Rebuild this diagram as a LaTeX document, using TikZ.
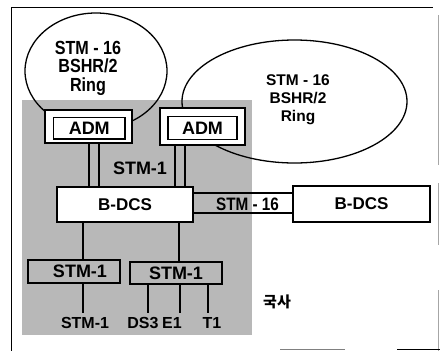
\documentclass[tikz,border=0pt]{standalone}
\usepackage{fontspec}
\setmainfont{Liberation Sans}
\newfontfamily\cond[FakeStretch=0.85]{Liberation Sans}
\newfontfamily\cjk{Noto Sans CJK KR}
\usetikzlibrary{shapes.geometric}
\definecolor{shadegray}{gray}{0.72}
\tikzset{
  ringshape/.style={draw, ellipse, line width=1.3pt, inner sep=0pt},
  admout/.style={draw, fill=white, line width=1.6pt, inner sep=0pt},
  admin/.style={draw, fill=white, line width=1.6pt, inner sep=0pt, font=\bfseries\fontsize{18}{18}\selectfont},
  dcsbox/.style={draw, fill=white, line width=2.5pt, inner sep=0pt, font=\bfseries\fontsize{17}{17}\selectfont},
  stmbox/.style={draw, fill=shadegray, line width=2.8pt, inner sep=0pt, font=\bfseries\fontsize{18}{18}\selectfont},
  conn/.style={line width=2.4pt},
  lbl/.style={inner sep=0pt, font=\bfseries\fontsize{16}{16}\selectfont},
  ringtxt/.style={inner sep=0pt, align=center}
}
\begin{document}
\begin{tikzpicture}[x=1pt,y=-1pt]
\useasboundingbox (0,0) rectangle (440,351);
% outer frame
\draw[line width=1pt] (11,351) -- (11,7) -- (433,7);
\draw[black!35, line width=0.6pt] (438,15) -- (438,165);
\draw[black!35, line width=0.6pt] (438,183) -- (438,245);
\draw[black!35, line width=0.6pt] (438,290) -- (438,351);
\draw[black!50, line width=0.8pt] (280,349) -- (345,349);
\draw[line width=1pt] (397,349) -- (440,349);
% shaded office area
\fill[shadegray] (22,100) rectangle (252,335);
% rings
\node[ringshape, minimum width=142pt, minimum height=116pt] (ring1) at (96,71) {};
\node[ringshape, minimum width=225pt, minimum height=123pt] (ring2) at (294.5,101.5) {};
\node[ringtxt, font=\cond\bfseries\fontsize{19}{18.5}\selectfont] (ring1t) at (88,68) {STM - 16\\BSHR/2\\Ring};
\node[ringtxt, font=\bfseries\fontsize{15.5}{18}\selectfont] (ring2t) at (298,100) {STM - 16\\BSHR/2\\Ring};
% ADMs
\node[admout, minimum width=87pt, minimum height=33pt] (adm1) at (88.5,126.5) {};
\node[admin, minimum width=71.5pt, minimum height=21.5pt] (adm1t) at (89.25,128.25) {ADM};
\node[admout, minimum width=85pt, minimum height=37pt] (adm2) at (202.5,126.5) {};
\node[admin, minimum width=69pt, minimum height=23pt] (adm2t) at (202.5,128) {ADM};
% B-DCS
\node[dcsbox, minimum width=136pt, minimum height=35pt] (bdcs1) at (125,204.5) {B-DCS};
\node[dcsbox, minimum width=137pt, minimum height=36pt] (bdcs2) at (361.5,204) {B-DCS};
% ADM to B-DCS
\draw[conn] ([xshift=0.5pt]adm1.south) -- ([xshift=0.5pt]adm1.south |- bdcs1.north);
\draw[conn] ([xshift=10.5pt]adm1.south) -- ([xshift=10.5pt]adm1.south |- bdcs1.north);
\draw[conn] ([xshift=-27.5pt]adm2.south) -- ([xshift=-27.5pt]adm2.south |- bdcs1.north);
\draw[conn] ([xshift=-17.5pt]adm2.south) -- ([xshift=-17.5pt]adm2.south |- bdcs1.north);
\node[lbl, font=\bfseries\fontsize{18}{18}\selectfont] (stmmid) at (140,168) {STM-1};
% B-DCS to B-DCS
\draw[line width=2.2pt] ([yshift=11.5pt]bdcs1.east) -- ([yshift=11.5pt]bdcs1.east -| bdcs2.west);
\draw[line width=2.2pt] ([yshift=-8.5pt]bdcs1.east) -- ([yshift=-8.5pt]bdcs1.east -| bdcs2.west);
\node[lbl, font=\cond\bfseries\fontsize{18}{18}\selectfont] (stm16) at (247.5,204) {STM - 16};
% STM-1 boxes
\node[stmbox, minimum width=92pt, minimum height=23pt] (stm1a) at (74,271.5) {\hspace*{12pt}STM-1};
\node[stmbox, minimum width=92pt, minimum height=22pt] (stm1b) at (176,273) {STM-1};
\draw[conn] ([xshift=-42pt]bdcs1.south) -- ([xshift=-42pt]bdcs1.south |- stm1a.north);
\draw[conn] ([xshift=54pt]bdcs1.south) -- ([xshift=54pt]bdcs1.south |- stm1b.north);
% tributaries
\node[lbl] (tstm) at (85,323) {STM-1};
\node[lbl] (tds3) at (143,323) {DS3};
\node[lbl] (te1) at (172,323) {E1};
\node[lbl] (tt1) at (212,323) {T1};
\coordinate (ea) at (83,313);
\coordinate (eb) at (148,313);
\coordinate (ec) at (180,313);
\coordinate (ed) at (208,313);
\draw[conn] (stm1a.south -| ea) -- (ea);
\draw[conn] (stm1b.south -| eb) -- (eb);
\draw[conn] (stm1b.south -| ec) -- (ec);
\draw[conn] (stm1b.south -| ed) -- (ed);
% office label
\node[inner sep=0pt, font=\cjk\bfseries\fontsize{15}{15}\selectfont] (guksa) at (277,302) {국사};
\end{tikzpicture}
\end{document}
